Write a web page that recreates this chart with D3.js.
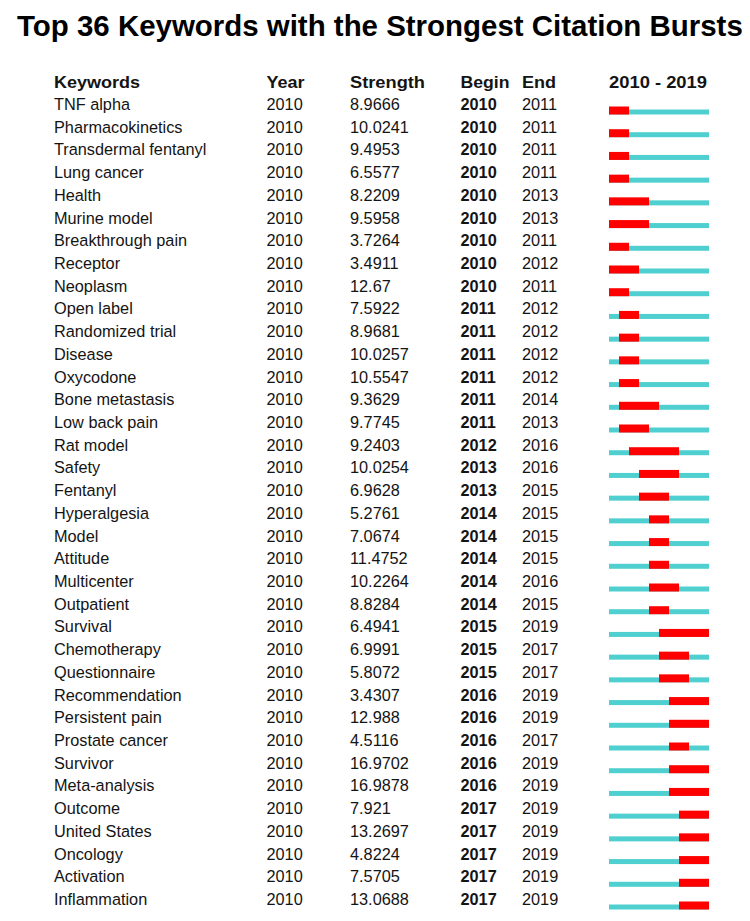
<!DOCTYPE html>
<html>
<head>
<meta charset="utf-8">
<script src="https://cdn.jsdelivr.net/npm/d3@7"></script>
<style>
  body { margin: 0; background: #fff; }
  text { font-family: "Liberation Sans", Arial, sans-serif; fill: #141414; }
</style>
</head>
<body>
<div id="chart"></div>
<script>
// table data
const keywords = ["TNF alpha", "Pharmacokinetics", "Transdermal fentanyl", "Lung cancer", "Health",
  "Murine model", "Breakthrough pain", "Receptor", "Neoplasm", "Open label", "Randomized trial",
  "Disease", "Oxycodone", "Bone metastasis", "Low back pain", "Rat model", "Safety", "Fentanyl",
  "Hyperalgesia", "Model", "Attitude", "Multicenter", "Outpatient", "Survival", "Chemotherapy",
  "Questionnaire", "Recommendation", "Persistent pain", "Prostate cancer", "Survivor",
  "Meta-analysis", "Outcome", "United States", "Oncology", "Activation", "Inflammation"];
const years = keywords.map(() => 2010);
const strengths = ["8.9666", "10.0241", "9.4953", "6.5577", "8.2209", "9.5958", "3.7264", "3.4911",
  "12.67", "7.5922", "8.9681", "10.0257", "10.5547", "9.3629", "9.7745", "9.2403", "10.0254",
  "6.9628", "5.2761", "7.0674", "11.4752", "10.2264", "8.8284", "6.4941", "6.9991", "5.8072",
  "3.4307", "12.988", "4.5116", "16.9702", "16.9878", "7.921", "13.2697", "4.8224", "7.5705",
  "13.0688"];
const begins = [2010, 2010, 2010, 2010, 2010, 2010, 2010, 2010, 2010, 2011, 2011, 2011, 2011, 2011,
  2011, 2012, 2013, 2013, 2014, 2014, 2014, 2014, 2014, 2015, 2015, 2015, 2016, 2016, 2016, 2016,
  2016, 2017, 2017, 2017, 2017, 2017];
const ends = [2011, 2011, 2011, 2011, 2013, 2013, 2011, 2012, 2011, 2012, 2012, 2012, 2012, 2014,
  2013, 2016, 2016, 2015, 2015, 2015, 2015, 2016, 2015, 2019, 2017, 2017, 2019, 2019, 2017, 2019,
  2019, 2019, 2019, 2019, 2019, 2019];
const startYear = 2010, endYear = 2019;

const rows = keywords.map((k, i) => ({
  keyword: k, year: years[i], strength: strengths[i], begin: begins[i], end: ends[i]
}));

const width = 750, height = 921;
const svg = d3.select("#chart").append("svg")
  .attr("width", width)
  .attr("height", height);

// title, squeezed horizontally like the original
const title = svg.append("text")
  .attr("x", 0)
  .attr("y", 0)
  .style("font-size", "30px")
  .style("font-weight", "bold")
  .style("fill", "#000")
  .text("Top 36 Keywords with the Strongest Citation Bursts");
const natural = title.node().getComputedTextLength();
title.attr("transform", "translate(17,36) scale(" + (726 / natural) + ",1)");

// row baselines
const y = d3.scalePoint().domain(keywords).range([110, 905]);
// timeline
const x = d3.scaleLinear().domain([startYear, endYear + 1]).range([609, 709]);

const cols = [
  {key: "keyword", x: 54, head: "Keywords", w: 86},
  {key: "year", x: 266.5, head: "Year", w: 38},
  {key: "strength", x: 350, head: "Strength", w: 75},
  {key: "begin", x: 460.5, head: "Begin", w: 49, bold: true},
  {key: "end", x: 522, head: "End", w: 34}
];

const header = svg.append("g").attr("class", "header");
cols.forEach(c => {
  header.append("text")
    .attr("x", c.x)
    .attr("y", 87.7)
    .attr("textLength", c.w)
    .attr("lengthAdjust", "spacingAndGlyphs")
    .style("font-size", "16px")
    .style("font-weight", "bold")
    .text(c.head);
});
header.append("text")
  .attr("x", 609)
  .attr("y", 87.7)
  .attr("textLength", 98)
  .attr("lengthAdjust", "spacingAndGlyphs")
  .style("font-size", "16px")
  .style("font-weight", "bold")
  .text(startYear + " - " + endYear);

const row = svg.selectAll(".row")
  .data(rows)
  .enter().append("g")
  .attr("class", "row")
  .attr("transform", d => "translate(0," + y(d.keyword) + ")");

cols.forEach(c => {
  row.append("text")
    .attr("x", c.x)
    .style("font-size", "16.3px")
    .style("font-weight", c.bold ? "bold" : "normal")
    .text(d => d[c.key]);
});

// full span line, then the burst on top
row.append("rect")
  .attr("x", x(startYear))
  .attr("y", -0.5)
  .attr("width", x(endYear + 1) - x(startYear))
  .attr("height", 5)
  .style("fill", "#4fcfcf");

row.append("rect")
  .attr("x", d => x(d.begin))
  .attr("y", -3.5)
  .attr("width", d => x(d.end + 1) - x(d.begin))
  .attr("height", 8)
  .style("fill", "#ff0000");
</script>
</body>
</html>
